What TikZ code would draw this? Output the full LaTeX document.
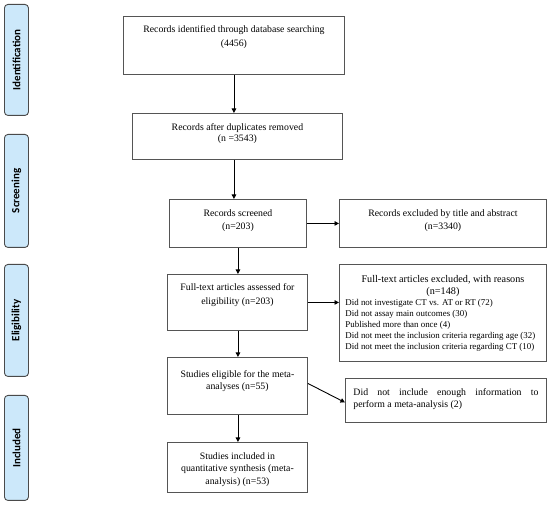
\documentclass[tikz,border=0pt]{standalone}
\usepackage{fontspec}
\setmainfont{Liberation Serif}
\newfontfamily\sidefont{Carlito}
\usetikzlibrary{arrows.meta}
\definecolor{sidefill}{HTML}{CCE8FA}
\definecolor{sidedraw}{HTML}{4A4A4A}
\definecolor{boxdraw}{HTML}{555555}
\newcommand\bxtext[5]{\parbox[c][#2][t]{#1}{\fontsize{9.8}{#4}\selectfont\vspace*{#3}#5}}
\begin{document}
\begin{tikzpicture}[x=1pt,y=-1pt,
  box/.style={draw=boxdraw, line width=0.9pt, inner sep=0pt, anchor=north west},
  side/.style={draw=sidedraw, fill=sidefill, rounded corners=3.5pt, line width=0.9pt,
    inner sep=0pt, anchor=north west, minimum width=24pt},
  sidelabel/.style={rotate=90, font=\sidefont\bfseries\fontsize{11}{13}\selectfont},
  arr/.style={line width=0.9pt, -{Triangle[length=4.5pt,width=4.5pt]}}]
\useasboundingbox (0,0) rectangle (550,510);
% side labels
\node[side, minimum height=111pt] (s1) at (4,4) {};
\node[sidelabel] (s1t) at (s1.center) {Identification};
\node[side, minimum height=113pt] (s2) at (4,134) {};
\node[sidelabel] (s2t) at (s2.center) {Screening};
\node[side, minimum height=112pt] (s3) at (4,264) {};
\node[sidelabel] (s3t) at (s3.center) {Eligibility};
\node[side, minimum height=105pt] (s4) at (4,395) {};
\node[sidelabel] (s4t) at (s4.center) {Included};
% main boxes
\node[box] (b1) at (123,16) {\bxtext{221pt}{58pt}{9pt}{14pt}{\centering Records identified through database searching\\(4456)}};
\node[box] (b2) at (132,113) {\bxtext{210pt}{46pt}{10pt}{11.5pt}{\centering Records after duplicates removed\\(n =3543)}};
\node[box] (b3) at (169,199) {\bxtext{137pt}{48pt}{10pt}{13pt}{\centering Records screened\\(n=203)}};
\node[box] (e1) at (339,199) {\bxtext{207pt}{48pt}{10pt}{13pt}{\centering Records excluded by title and abstract\\(n=3340)}};
\node[box] (b4) at (167,274) {\bxtext{140pt}{56pt}{9pt}{14pt}{\centering Full-text articles assessed for\\eligibility (n=203)}};
\node[box] (e2) at (339,264) {\bxtext{207pt}{97pt}{11pt}{11.2pt}{\centering{\fontsize{10.2}{12}\selectfont Full-text articles excluded, with reasons\\(n=148)\par}
\raggedright\leftskip=6pt\fontsize{8.9}{11}\selectfont Did not investigate CT vs. AT or RT (72)\\Did not assay main outcomes (30)\\Published more than once (4)\\Did not meet the inclusion criteria regarding age (32)\\Did not meet the inclusion criteria regarding CT (10)}};
\node[box] (b5) at (167,357) {\bxtext{140pt}{57pt}{13pt}{12pt}{\centering Studies eligible for the meta-\\analyses (n=55)}};
\node[box] (e3) at (345,378) {\bxtext{201pt}{44pt}{10pt}{12pt}{\leftskip=8pt\rightskip=8pt{\parfillskip=0pt Did not include enough information to\par}perform a meta-analysis (2)}};
\node[box] (b6) at (167,442) {\bxtext{140pt}{50pt}{10pt}{12.5pt}{\centering Studies included in\\quantitative synthesis (meta-\\analysis) (n=53)}};
% arrows
\draw[arr] (b1.south) -- (b1.south |- b2.north);
\draw[arr] (b1.south |- b2.south) -- (b1.south |- b3.north);
\draw[arr] (b3.south) -- (b4.north -| b3.south);
\draw[arr] (b4.south -| b3.south) -- (b5.north -| b3.south);
\draw[arr] (b5.south -| b3.south) -- (b6.north -| b3.south);
\draw[arr] (b3.east) -- (e1.west);
\draw[arr] (b4.east) -- (b4.east -| e2.west);
\draw[arr] ([yshift=2.5pt]b5.east) -- ([yshift=-2pt]e3.west);
\end{tikzpicture}
\end{document}
